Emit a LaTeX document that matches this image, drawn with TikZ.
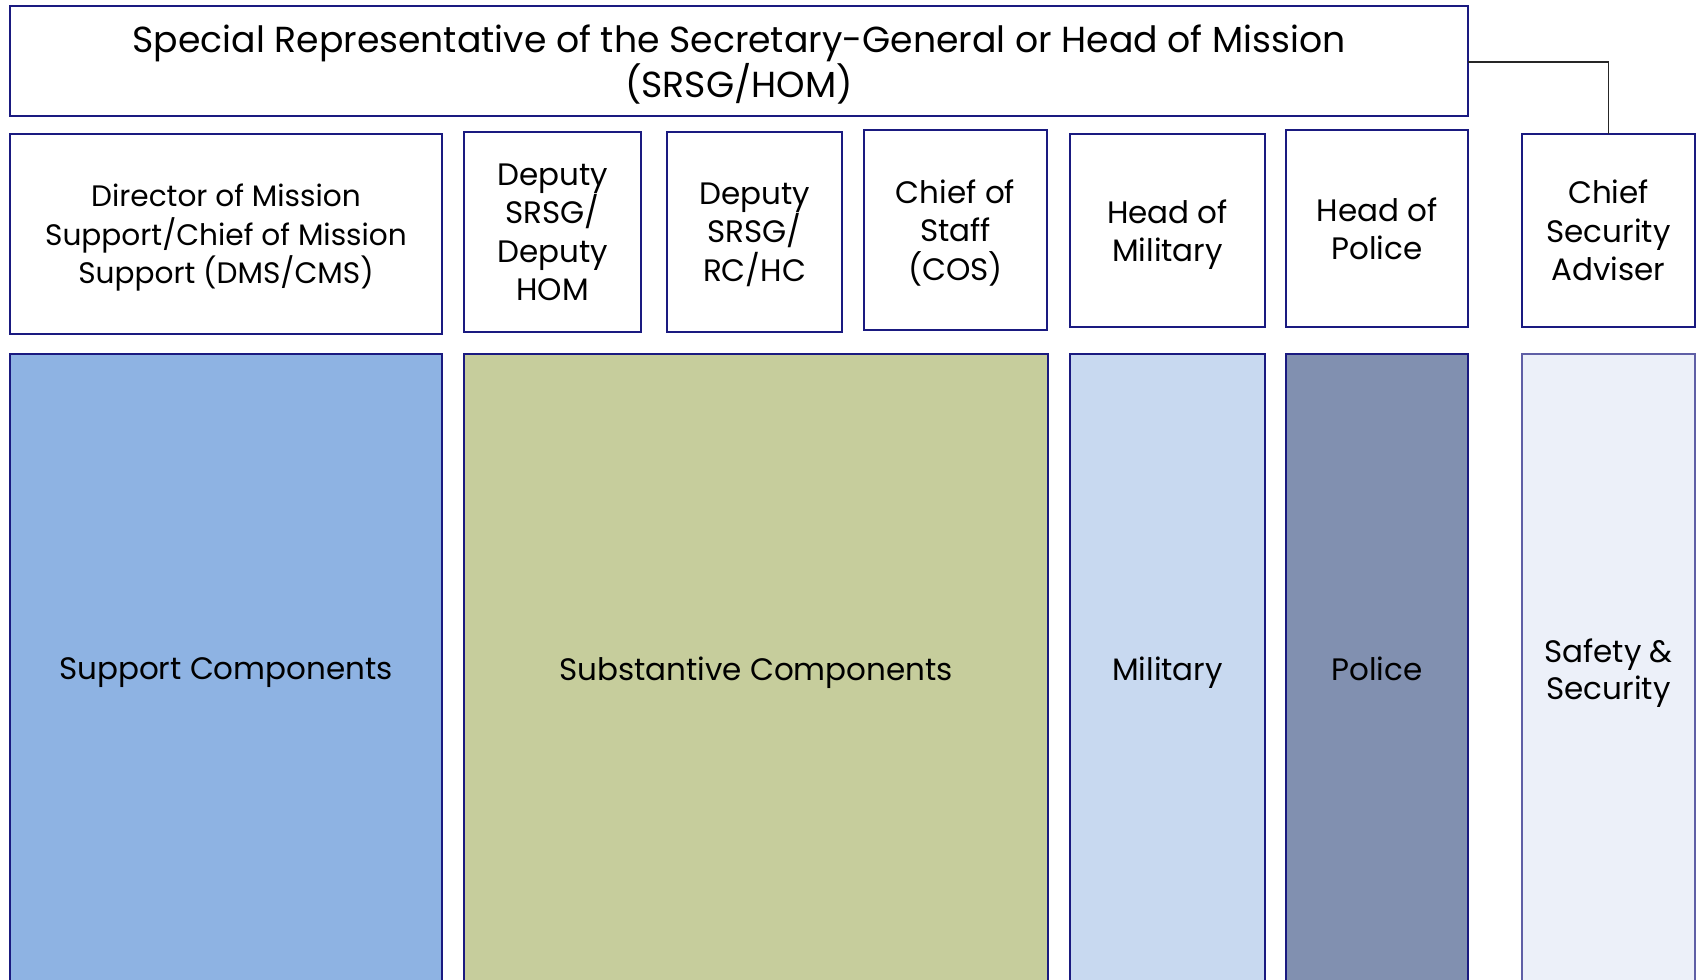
\documentclass[tikz,border=0pt]{standalone}
\usepackage{fontspec}
\setmainfont{Poppins}
\definecolor{navy}{HTML}{1A1A80}
\definecolor{cSupport}{HTML}{8EB3E3}
\definecolor{cSubst}{HTML}{C6CD9C}
\definecolor{cMil}{HTML}{C8D9F0}
\definecolor{cPol}{HTML}{8190B0}
\definecolor{cSafe}{HTML}{ECF0F9}
\definecolor{conn}{HTML}{262626}
\tikzset{
  box/.style={draw=navy, line width=1pt, fill=white, inner sep=0pt, outer sep=0pt, align=center, anchor=north west, text depth=0pt, font=\fontsize{15.5}{19.2}\selectfont},
  comp/.style={box, font=\fontsize{15.5}{18.5}\selectfont},
  link/.style={draw=conn, line width=0.9pt}
}
\begin{document}
\begin{tikzpicture}[x=1pt,y=-1pt]
\useasboundingbox (0,0) rectangle (849,490);
\clip (0,0) rectangle (849,490);
\node[box, minimum width=729pt, minimum height=55pt, font=\fontsize{18.1}{21.7}\selectfont] (srsg) at (5,3) {Special Representative of the Secretary-General or Head of Mission\\(SRSG/HOM)};
\node[box, minimum width=216pt, minimum height=100pt, font=\fontsize{14.8}{19.2}\selectfont] (dms) at (5,67) {Director of Mission\\Support/Chief of Mission\\Support (DMS/CMS)};
\node[box, minimum width=88.5pt, minimum height=100pt] (dhom) at (232,66) {Deputy\\SRSG/\\Deputy\\HOM};
\node[box, minimum width=87.5pt, minimum height=100pt] (drc) at (333.5,66) {Deputy\\SRSG/\\RC/HC};
\node[box, minimum width=91.5pt, minimum height=100pt] (cos) at (432,65) {Chief of\\Staff\\(COS)};
\node[box, minimum width=97.5pt, minimum height=96.5pt] (hmil) at (535,67) {Head of\\Military};
\node[box, minimum width=91pt, minimum height=98.5pt] (hpol) at (643,65) {Head of\\Police};
\node[box, minimum width=86.5pt, minimum height=96.5pt] (csa) at (761,67) {Chief\\Security\\Adviser};
\node[comp, fill=cSupport, minimum width=216pt, minimum height=315pt] (sup) at (5,177) {Support Components};
\node[comp, fill=cSubst, minimum width=292pt, minimum height=315pt] (sub) at (232,177) {Substantive Components};
\node[comp, fill=cMil, minimum width=97.5pt, minimum height=315pt] (mil) at (535,177) {Military};
\node[comp, fill=cPol, minimum width=91pt, minimum height=315pt] (pol) at (643,177) {Police};
\node[comp, fill=cSafe, draw=navy!70, line width=0.6pt, minimum width=86.5pt, minimum height=315pt] (safe) at (761,177) {Safety \&\\Security};
\draw[link] (srsg.east |- 0,30.8) -| (csa.north);
\end{tikzpicture}
\end{document}
